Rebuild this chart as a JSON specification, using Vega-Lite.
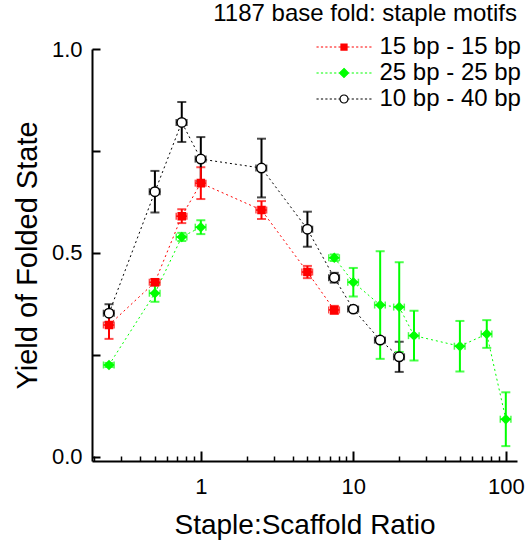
{
  "$schema": "https://vega.github.io/schema/vega-lite/v6.json",
  "width": 425,
  "height": 412,
  "autosize": "none",
  "padding": {"left": 92, "top": 49, "right": 9, "bottom": 83},
  "background": "white",
  "config": {
    "view": {"stroke": null},
    "font": "Liberation Sans",
    "axis": {
      "domainColor": "black", "tickColor": "black", "labelColor": "black", "titleColor": "black",
      "grid": false, "labelFont": "Liberation Sans", "titleFont": "Liberation Sans",
      "labelFontSize": 22, "titleFontSize": 28, "titleFontWeight": "normal",
      "domainWidth": 2, "tickWidth": 2, "labelFlush": false
    },
    "legend": {
      "labelFont": "Liberation Sans", "labelFontSize": 24, "labelColor": "black",
      "symbolSize": 121, "symbolStrokeWidth": 1.2, "symbolOpacity": 1,
      "labelOffset": 23.5, "rowPadding": 2, "padding": 0, "labelLimit": 300
    }
  },
  "title": {
    "text": "1187 base fold: staple motifs",
    "anchor": "end", "frame": "group", "fontSize": 24, "fontWeight": "normal",
    "font": "Liberation Sans", "color": "black", "offset": 9
  },
  "data": {
    "values": [
      {"motif": "10 bp - 40 bp", "ratio": 0.25, "yield": 0.352, "ylo": 0.330, "yhi": 0.374, "rlo": 0.23, "rhi": 0.27},
      {"motif": "10 bp - 40 bp", "ratio": 0.5, "yield": 0.650, "ylo": 0.599, "yhi": 0.701, "rlo": 0.46, "rhi": 0.54},
      {"motif": "10 bp - 40 bp", "ratio": 0.75, "yield": 0.820, "ylo": 0.772, "yhi": 0.870, "rlo": 0.69, "rhi": 0.81},
      {"motif": "10 bp - 40 bp", "ratio": 1, "yield": 0.730, "ylo": 0.676, "yhi": 0.784, "rlo": 0.92, "rhi": 1.08},
      {"motif": "10 bp - 40 bp", "ratio": 2.5, "yield": 0.708, "ylo": 0.636, "yhi": 0.780, "rlo": 2.3, "rhi": 2.7},
      {"motif": "10 bp - 40 bp", "ratio": 5, "yield": 0.558, "ylo": 0.515, "yhi": 0.601, "rlo": 4.6, "rhi": 5.4},
      {"motif": "10 bp - 40 bp", "ratio": 7.5, "yield": 0.439, "ylo": 0.427, "yhi": 0.451, "rlo": 6.9, "rhi": 8.1},
      {"motif": "10 bp - 40 bp", "ratio": 10, "yield": 0.362, "ylo": 0.357, "yhi": 0.367, "rlo": 9.2, "rhi": 10.8},
      {"motif": "10 bp - 40 bp", "ratio": 15, "yield": 0.286, "ylo": 0.280, "yhi": 0.292, "rlo": 13.8, "rhi": 16.2},
      {"motif": "10 bp - 40 bp", "ratio": 20, "yield": 0.245, "ylo": 0.208, "yhi": 0.282, "rlo": 18.4, "rhi": 21.6},
      {"motif": "25 bp - 25 bp", "ratio": 0.25, "yield": 0.225, "ylo": 0.220, "yhi": 0.230, "rlo": 0.23, "rhi": 0.27},
      {"motif": "25 bp - 25 bp", "ratio": 0.5, "yield": 0.401, "ylo": 0.380, "yhi": 0.422, "rlo": 0.46, "rhi": 0.54},
      {"motif": "25 bp - 25 bp", "ratio": 0.75, "yield": 0.539, "ylo": 0.529, "yhi": 0.549, "rlo": 0.69, "rhi": 0.81},
      {"motif": "25 bp - 25 bp", "ratio": 1, "yield": 0.563, "ylo": 0.546, "yhi": 0.580, "rlo": 0.92, "rhi": 1.08},
      {"motif": "25 bp - 25 bp", "ratio": 2.5, "yield": null, "ylo": null, "yhi": null, "rlo": null, "rhi": null},
      {"motif": "25 bp - 25 bp", "ratio": 7.5, "yield": 0.488, "ylo": 0.480, "yhi": 0.496, "rlo": 6.9, "rhi": 8.1},
      {"motif": "25 bp - 25 bp", "ratio": 10, "yield": 0.428, "ylo": 0.393, "yhi": 0.463, "rlo": 9.2, "rhi": 10.8},
      {"motif": "25 bp - 25 bp", "ratio": 15, "yield": 0.372, "ylo": 0.240, "yhi": 0.504, "rlo": 13.8, "rhi": 16.2},
      {"motif": "25 bp - 25 bp", "ratio": 20, "yield": 0.367, "ylo": 0.257, "yhi": 0.477, "rlo": 18.4, "rhi": 21.6},
      {"motif": "25 bp - 25 bp", "ratio": 25, "yield": 0.297, "ylo": 0.236, "yhi": 0.358, "rlo": 23, "rhi": 27},
      {"motif": "25 bp - 25 bp", "ratio": 50, "yield": 0.271, "ylo": 0.209, "yhi": 0.333, "rlo": 46, "rhi": 54},
      {"motif": "25 bp - 25 bp", "ratio": 75, "yield": 0.301, "ylo": 0.267, "yhi": 0.335, "rlo": 69, "rhi": 81},
      {"motif": "25 bp - 25 bp", "ratio": 100, "yield": 0.092, "ylo": 0.026, "yhi": 0.158, "rlo": 92, "rhi": 108},
      {"motif": "15 bp - 15 bp", "ratio": 0.25, "yield": 0.323, "ylo": 0.289, "yhi": 0.357, "rlo": 0.23, "rhi": 0.27},
      {"motif": "15 bp - 15 bp", "ratio": 0.5, "yield": 0.428, "ylo": 0.420, "yhi": 0.436, "rlo": 0.46, "rhi": 0.54},
      {"motif": "15 bp - 15 bp", "ratio": 0.75, "yield": 0.590, "ylo": 0.573, "yhi": 0.607, "rlo": 0.69, "rhi": 0.81},
      {"motif": "15 bp - 15 bp", "ratio": 1, "yield": 0.671, "ylo": 0.632, "yhi": 0.710, "rlo": 0.92, "rhi": 1.08},
      {"motif": "15 bp - 15 bp", "ratio": 2.5, "yield": 0.605, "ylo": 0.583, "yhi": 0.627, "rlo": 2.3, "rhi": 2.7},
      {"motif": "15 bp - 15 bp", "ratio": 5, "yield": 0.453, "ylo": 0.438, "yhi": 0.468, "rlo": 4.6, "rhi": 5.4},
      {"motif": "15 bp - 15 bp", "ratio": 7.5, "yield": 0.360, "ylo": 0.350, "yhi": 0.370, "rlo": 6.9, "rhi": 8.1}
    ]
  },
  "layer": [
    {
      "mark": {"type": "line", "strokeWidth": 1, "strokeDash": [2, 3], "invalid": "break-paths-show-domains"},
      "encoding": {
        "x": {"field": "ratio", "type": "quantitative",
              "scale": {"type": "log", "domain": [0.1934, 118.4], "nice": false},
              "axis": {"values": [1, 10, 100], "format": "d", "tickSize": -10, "labelPadding": 25, "orient": "bottom",
                       "title": "Staple:Scaffold Ratio", "titlePadding": 14}},
        "y": {"field": "yield", "type": "quantitative", "title": "Yield of Folded State",
              "scale": {"domain": [-0.0105, 1], "nice": false, "zero": false},
              "axis": {"values": [0, 0.25, 0.5, 0.75, 1],
                       "labelExpr": "datum.value == 0.25 || datum.value == 0.75 ? '' : format(datum.value, '.1f')",
                       "tickSize": -8, "labelPadding": 18, "title": "Yield of Folded State", "titlePadding": 9, "titleFontSize": 29}},
        "stroke": {"field": "motif", "type": "nominal",
                   "scale": {"domain": ["15 bp - 15 bp", "25 bp - 25 bp", "10 bp - 40 bp"], "range": ["#ff0000", "#00ff00", "#000000"]},
                   "legend": null}
      }
    },
    {
      "mark": {"type": "errorbar", "ticks": true, "size": 9, "thickness": 2},
      "encoding": {
        "x": {"field": "ratio", "type": "quantitative", "scale": {"type": "log", "domain": [0.1934, 118.4], "nice": false}, "axis": null},
        "y": {"field": "ylo", "type": "quantitative", "title": "Yield of Folded State", "scale": {"domain": [-0.0105, 1], "nice": false, "zero": false}},
        "y2": {"field": "yhi", "title": "Yield of Folded State"},
        "color": {"field": "motif", "type": "nominal",
                  "scale": {"domain": ["15 bp - 15 bp", "25 bp - 25 bp", "10 bp - 40 bp"], "range": ["#ff0000", "#00ff00", "#000000"]},
                  "legend": null}
      }
    },
    {
      "mark": {"type": "errorbar", "ticks": true, "size": 7, "thickness": 1.5},
      "encoding": {
        "x": {"field": "rlo", "type": "quantitative", "scale": {"type": "log", "domain": [0.1934, 118.4], "nice": false},
              "axis": {"values": [0.2, 0.3, 0.4, 0.5, 0.6, 0.7, 0.8, 0.9, 2, 3, 4, 5, 6, 7, 8, 9, 20, 30, 40, 50, 60, 70, 80, 90],
                       "labels": false, "title": null, "tickSize": -5, "tickWidth": 1.5, "domain": false, "orient": "bottom"}},
        "x2": {"field": "rhi"},
        "y": {"field": "yield", "type": "quantitative", "title": "Yield of Folded State", "scale": {"domain": [-0.0105, 1], "nice": false, "zero": false}},
        "color": {"field": "motif", "type": "nominal",
                  "scale": {"domain": ["15 bp - 15 bp", "25 bp - 25 bp", "10 bp - 40 bp"], "range": ["#ff0000", "#00ff00", "#000000"]},
                  "legend": null}
      }
    },
    {
      "mark": {"type": "point", "strokeWidth": 1.5, "opacity": 1},
      "encoding": {
        "x": {"field": "ratio", "type": "quantitative", "scale": {"type": "log", "domain": [0.1934, 118.4], "nice": false}, "axis": null},
        "y": {"field": "yield", "type": "quantitative", "title": "Yield of Folded State", "scale": {"domain": [-0.0105, 1], "nice": false, "zero": false}},
        "shape": {"field": "motif", "type": "nominal",
                  "scale": {"domain": ["15 bp - 15 bp", "25 bp - 25 bp", "10 bp - 40 bp"], "range": ["square", "diamond", "circle"]},
                  "legend": null},
        "size": {"field": "motif", "type": "nominal",
                 "scale": {"domain": ["15 bp - 15 bp", "25 bp - 25 bp", "10 bp - 40 bp"], "range": [50, 90, 45]},
                 "legend": null},
        "fill": {"field": "motif", "type": "nominal",
                 "scale": {"domain": ["15 bp - 15 bp", "25 bp - 25 bp", "10 bp - 40 bp"], "range": ["#ff0000", "#00ff00", "#ffffff"]},
                 "legend": null},
        "stroke": {"field": "motif", "type": "nominal",
                   "scale": {"domain": ["15 bp - 15 bp", "25 bp - 25 bp", "10 bp - 40 bp"], "range": ["#ff0000", "#00ff00", "#000000"]},
                   "legend": null}
      }
    },
    {
      "mark": {"type": "point", "strokeWidth": 1.2, "opacity": 0},
      "encoding": {
        "x": {"field": "ratio", "type": "quantitative", "scale": {"type": "log", "domain": [0.1934, 118.4], "nice": false}, "axis": null},
        "y": {"field": "yield", "type": "quantitative", "title": "Yield of Folded State", "scale": {"domain": [-0.0105, 1], "nice": false, "zero": false}},
        "shape": {"field": "motif", "type": "nominal",
                  "scale": {"domain": ["15 bp - 15 bp", "25 bp - 25 bp", "10 bp - 40 bp"],
                            "range": [
                              "M-5,0H-4.6M-4.2,0H-3.8M-3.4,0H-3M-2.6,0H-2.2M-1.8,0H-1.4M-1,0H-0.6M0.6,0H1M1.4,0H1.8M2.2,0H2.6M3,0H3.4M3.8,0H4.2M4.6,0H5M-0.55,-0.55H0.55V0.55H-0.55Z",
                              "M-5,0H-4.6M-4.2,0H-3.8M-3.4,0H-3M-2.6,0H-2.2M-1.8,0H-1.4M-1,0H-0.6M0.6,0H1M1.4,0H1.8M2.2,0H2.6M3,0H3.4M3.8,0H4.2M4.6,0H5M0,-0.82L0.82,0L0,0.82L-0.82,0Z",
                              "M-5,0H-4.6M-4.2,0H-3.8M-3.4,0H-3M-2.6,0H-2.2M-1.8,0H-1.4M-1,0H-0.6M0.6,0H1M1.4,0H1.8M2.2,0H2.6M3,0H3.4M3.8,0H4.2M4.6,0H5M0.73,0A0.73,0.73,0,1,1,-0.73,0A0.73,0.73,0,1,1,0.73,0Z"
                            ]},
                  "legend": {"title": null, "orient": "none", "legendX": 240, "legendY": -14}},
        "fill": {"field": "motif", "type": "nominal",
                 "scale": {"domain": ["15 bp - 15 bp", "25 bp - 25 bp", "10 bp - 40 bp"], "range": ["#ff0000", "#00ff00", "#ffffff"]},
                 "legend": {"title": null, "orient": "none", "legendX": 240, "legendY": -14}},
        "stroke": {"field": "motif", "type": "nominal",
                   "scale": {"domain": ["15 bp - 15 bp", "25 bp - 25 bp", "10 bp - 40 bp"], "range": ["#ff0000", "#00ff00", "#000000"]},
                   "legend": {"title": null, "orient": "none", "legendX": 240, "legendY": -14}}
      }
    }
  ],
  "resolve": {
    "scale": {"color": "independent", "fill": "independent", "stroke": "independent", "shape": "independent", "size": "independent"},
    "axis": {"x": "independent"}
  }
}
